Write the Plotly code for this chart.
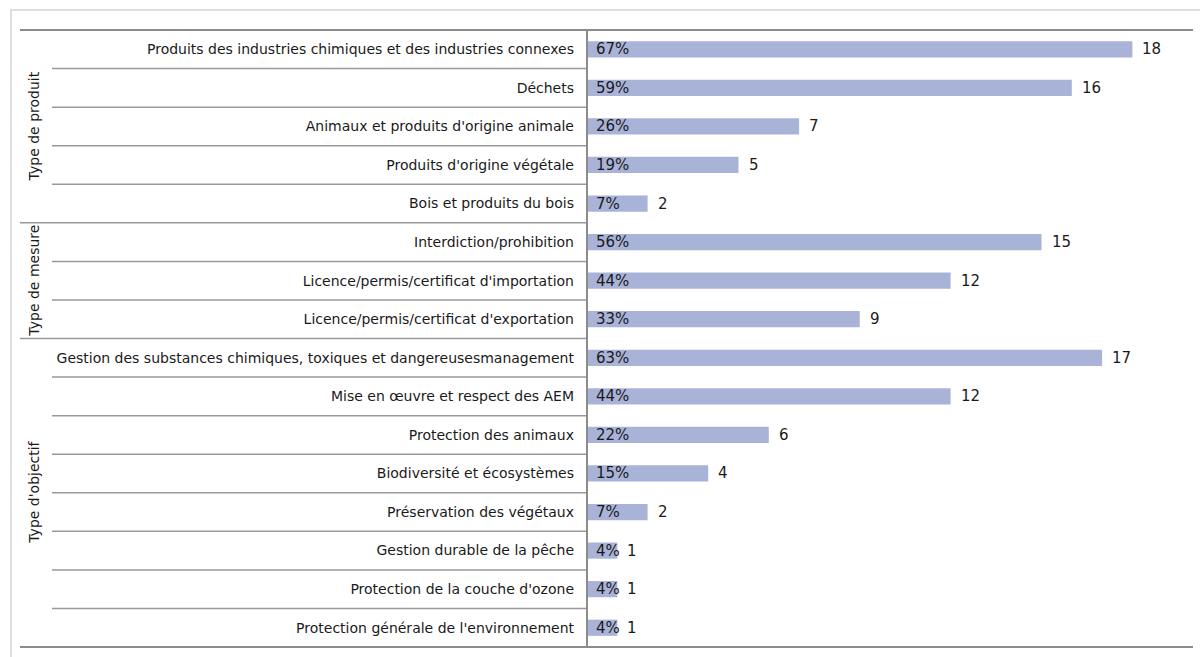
import plotly.graph_objects as go

# Survey results: number of measures per category, grouped by type
categories = [
    "Produits des industries chimiques et des industries connexes",
    "Déchets",
    "Animaux et produits d'origine animale",
    "Produits d'origine végétale",
    "Bois et produits du bois",
    "Interdiction/prohibition",
    "Licence/permis/certificat d'importation",
    "Licence/permis/certificat d'exportation",
    "Gestion des substances chimiques, toxiques et dangereusesmanagement",
    "Mise en œuvre et respect des AEM",
    "Protection des animaux",
    "Biodiversité et écosystèmes",
    "Préservation des végétaux",
    "Gestion durable de la pêche",
    "Protection de la couche d'ozone",
    "Protection générale de l'environnement",
]
counts = [18, 16, 7, 5, 2, 15, 12, 9, 17, 12, 6, 4, 2, 1, 1, 1]
shares = ["67%", "59%", "26%", "19%", "7%", "56%", "44%", "33%",
          "63%", "44%", "22%", "15%", "7%", "4%", "4%", "4%"]
group_names = ["Type de produit", "Type de mesure", "Type d'objectif"]
group_sizes = [5, 3, 8]

# Page geometry (pixels)
W, H = 1200, 657
L, R, T, B = 587, 7, 30, 10
PW, PH = W - L - R, H - T - B

FONT = "DejaVu Sans"
TXT = "#1a1a1a"
BAR = "#A9B3D8"
LINE = "#8c8c8c"


def px_x(px):
    return (px - L) / PW


def px_y(py):
    return 1 - (py - T) / PH


fig = go.Figure()
fig.add_trace(go.Bar(
    x=counts, y=categories, orientation="h",
    marker=dict(color=BAR, line=dict(width=0)),
    width=0.42, hoverinfo="skip",
))

annotations = []
for cat, val, pct in zip(categories, counts, shares):
    annotations.append(dict(x=0, y=cat, xref="x", yref="y", text=pct,
                            showarrow=False, xanchor="left", xshift=7,
                            font=dict(family=FONT, size=15, color=TXT)))
    annotations.append(dict(x=val, y=cat, xref="x", yref="y", text=str(val),
                            showarrow=False, xanchor="left", xshift=8,
                            font=dict(family=FONT, size=15, color=TXT)))

shapes = []
n = len(categories)
# row separators: full width at group boundaries, indented otherwise
boundaries = []
acc = 0
for s in group_sizes:
    acc += s
    boundaries.append(acc)
for i in range(1, n):
    x0 = px_x(20) if i in boundaries else px_x(52)
    shapes.append(dict(type="line", xref="paper", yref="y",
                       x0=x0, x1=0, y0=i - 0.5, y1=i - 0.5,
                       line=dict(color="#999999", width=1.5)))
# top and bottom rules
shapes.append(dict(type="line", xref="paper", yref="paper",
                   x0=px_x(20), x1=px_x(1193), y0=1, y1=1,
                   line=dict(color=LINE, width=2)))
shapes.append(dict(type="line", xref="paper", yref="paper",
                   x0=px_x(20), x1=px_x(1193), y0=0, y1=0,
                   line=dict(color=LINE, width=2)))
# value axis line
shapes.append(dict(type="line", xref="paper", yref="paper",
                   x0=0, x1=0, y0=0, y1=1,
                   line=dict(color=LINE, width=2)))
# outer frame
shapes.append(dict(type="rect", xref="paper", yref="paper",
                   x0=px_x(11), x1=px_x(1220), y0=px_y(680), y1=px_y(10),
                   line=dict(color="#d4d4d4", width=1.5)))

# group labels (rotated)
start = 0
for name, size in zip(group_names, group_sizes):
    mid = start + (size - 1) / 2
    annotations.append(dict(x=px_x(34), y=mid, xref="paper", yref="y",
                            text=name, textangle=-90, showarrow=False,
                            xanchor="center", yanchor="middle",
                            font=dict(family=FONT, size=14, color=TXT)))
    start += size

fig.update_layout(
    width=W, height=H,
    margin=dict(l=L, r=R, t=T, b=B, pad=0),
    paper_bgcolor="white", plot_bgcolor="white",
    showlegend=False,
    bargap=0.58,
    xaxis=dict(range=[0, 20], showgrid=False, zeroline=False,
               showticklabels=False, ticks="", showline=False, fixedrange=True),
    yaxis=dict(autorange="reversed", showgrid=False, zeroline=False,
               ticks="", showline=False, ticklabelstandoff=12,
               tickfont=dict(family=FONT, size=14, color=TXT),
               fixedrange=True),
    annotations=annotations,
    shapes=shapes,
)

fig.write_html("out.html")
